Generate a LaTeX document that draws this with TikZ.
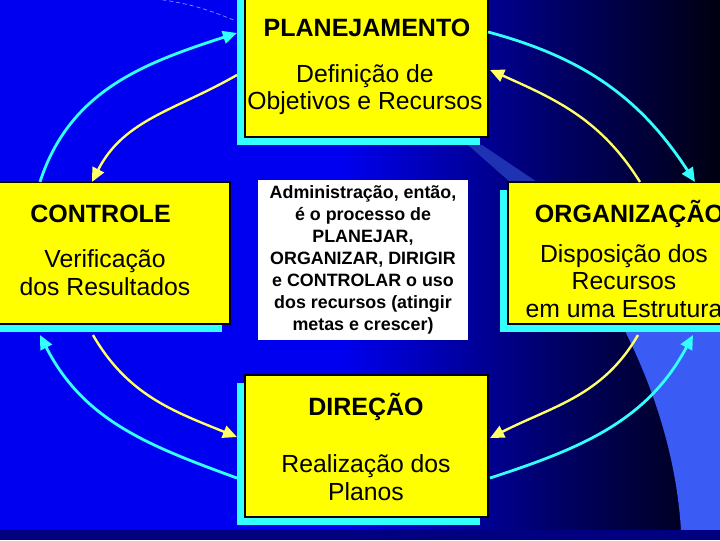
\documentclass[tikz,border=0pt]{standalone}
\usepackage{fontspec}
\setmainfont{Liberation Sans}
\usetikzlibrary{positioning,shapes,shadows,arrows.meta}

\definecolor{fundoazul}{RGB}{0,0,240}
\definecolor{fundoescuro}{RGB}{0,0,16}
\definecolor{marinho}{RGB}{0,0,100}
\definecolor{faixa}{RGB}{0,0,128}
\definecolor{azulclaro}{RGB}{58,92,245}
\definecolor{amarelo}{RGB}{255,255,0}
\definecolor{amareloclaro}{RGB}{255,255,102}
\definecolor{ciano}{RGB}{51,255,255}

\tikzset{
  caixa/.style={draw=black, line width=1.3pt, fill=amarelo, inner sep=0pt, outer sep=0pt,
    drop shadow={fill=ciano, opacity=1, shadow xshift=-0.2cm, shadow yshift=-0.2cm}},
  titulo/.style={anchor=base, font=\fontsize{17.8}{20}\selectfont\bfseries},
  subtitulo/.style={anchor=base, align=center, font=\fontsize{17.6}{19.4}\selectfont},
  setaciano/.style={draw=ciano, line width=2pt, -{Triangle[length=10pt,width=9pt]}},
  setaamarela/.style={draw=amareloclaro, line width=1.7pt, -{Triangle[length=10pt,width=9pt]}}
}

\begin{document}
\begin{tikzpicture}[x=0.025cm, y=0.025cm]
\useasboundingbox (0,0) rectangle (720,540);
\clip (0,0) rectangle (720,540);

% fundo
\fill[fundoazul] (0,0) rectangle (720,540);
\shade[left color=fundoazul, right color=marinho] (340,10) rectangle (560,540);
\shade[left color=marinho, right color=fundoescuro] (560,10) rectangle (720,540);
\fill[azulclaro] (622,215) .. controls (650,160) and (676,90) .. (681,10) -- (720,10) -- (720,215) -- cycle;
\fill[azulclaro!55!marinho] (468,395) -- (482,395) -- (537,358) -- (510,358) -- cycle;
\fill[faixa] (0,0) rectangle (720,10);
\draw[blue!45!white, line width=0.5pt, densely dashed] (148,542) to[bend left=8] (236,519);

% caixas
\foreach \nome/\cx/\cy/\lar/\alt in {planejamento/366.5/476.5/6.075/3.675, controle/105/287/6.25/3.55,
    organizacao/624/287/5.8/3.55, direcao/366.5/94/6.075/3.55} {
  \node[caixa, minimum width=\lar cm, minimum height=\alt cm] (\nome) at (\cx,\cy) {};
}

\node[fill=white, minimum width=5.25cm, minimum height=4cm, align=center,
  font=\fontsize{12.7}{15.6}\selectfont\bfseries] (texto) at (363,280)
  {Administração, então,\\é o processo de\\PLANEJAR,\\ORGANIZAR, DIRIGIR\\e CONTROLAR o uso\\dos recursos (atingir\\metas e crescer)};

% textos (base = ultima linha)
\node[titulo] (planT) at (367,503) {PLANEJAMENTO};
\node[subtitulo] (planS) at (365,430) {Definição de\\Objetivos e Recursos};
\node[titulo] (contT) at (100.5,317) {CONTROLE};
\node[subtitulo] (contS) at (105,245) {Verificação\\dos Resultados};
\node[titulo, anchor=base west] (orgT) at (530,317) {ORGANIZAÇÃO};
\node[subtitulo] (orgS) at (624,223) {Disposição dos\\Recursos\\em uma Estrutura};
\node[titulo] (dirT) at (366,125) {DIREÇÃO};
\node[subtitulo] (dirS) at (366,40) {Realização dos\\Planos};

% setas
\draw[setaciano] ([shift={(60,0)}]controle.north west) to[out=72, in=198] ([shift={(-8,-43)}]planejamento.north west);
\draw[setaamarela] ([shift={(-8,-85)}]planejamento.north west) to[out=210, in=63] ([shift={(112,0)}]controle.north west);
\draw[setaciano] ([shift={(0,-42)}]planejamento.north east) to[out=-15, in=123] ([shift={(187,0)}]organizacao.north west);
\draw[setaamarela] ([shift={(132,0)}]organizacao.north west) to[out=122, in=-24] ([shift={(2,-80)}]planejamento.north east);
\draw[setaciano] ([shift={(2,39)}]direcao.south east) to[out=18, in=242] ([shift={(185,-11)}]organizacao.south west);
\draw[setaamarela] ([shift={(130,-11)}]organizacao.south west) to[out=240, in=27] ([shift={(2,79)}]direcao.south east);
\draw[setaciano] ([shift={(-8,39)}]direcao.south west) to[out=160, in=-63] ([shift={(60,-11)}]controle.south west);
\draw[setaamarela] ([shift={(113,-11)}]controle.south west) to[out=-60, in=158] ([shift={(-8,80)}]direcao.south west);
\end{tikzpicture}
\end{document}
